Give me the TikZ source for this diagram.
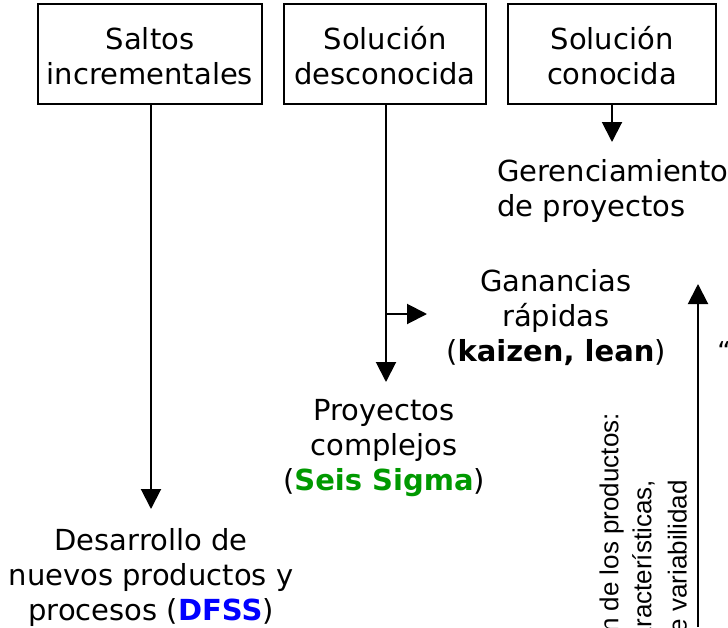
\documentclass[tikz,border=0pt]{standalone}
\usepackage{fontspec}
\setmainfont{DejaVu Sans}
\newfontfamily\arialf{Liberation Sans}
\usetikzlibrary{arrows.meta}
\definecolor{dfssblue}{RGB}{0,0,255}
\definecolor{sigmagreen}{RGB}{0,153,0}
\tikzset{
  box/.style={draw, line width=2pt, minimum height=100pt, inner sep=0pt},
  boxtext/.style={align=center, inner sep=0pt, yshift=-2pt, font=\fontsize{29pt}{35pt}\selectfont},
  lbl/.style={align=center, inner sep=0pt, font=\fontsize{29pt}{35pt}\selectfont},
  rotlbl/.style={inner sep=0pt, rotate=90, font=\arialf\fontsize{26pt}{31pt}\selectfont},
  arr/.style={line width=2pt, -{Triangle[width=20pt,length=20pt]}}
}
\begin{document}
\begin{tikzpicture}[x=1pt,y=-1pt]
\useasboundingbox (0,0) rectangle (728,627);
\clip (0,0) rectangle (728,627);
% boxes
\node[box, minimum width=224pt, label={[boxtext]center:Saltos\\incrementales}] (b1) at (150,54) {};
\node[box, minimum width=202pt, label={[boxtext]center:Solución\\desconocida}] (b2) at (385,54) {};
\node[box, minimum width=208pt, label={[boxtext]center:Solución\\conocida}] (b3) at (612,54) {};
% text blocks
\node[lbl, anchor=west, align=left] (ger) at (497,191) {Gerenciamiento\\de proyectos};
\node[lbl] (gan) at (556,318) {Ganancias\\rápidas\\(\textbf{kaizen, lean})};
\node[lbl] (pro) at (384,448) {Proyectos\\complejos\\(\textbf{\color{sigmagreen}Seis Sigma})};
\node[lbl] (des) at (151,577) {Desarrollo de\\nuevos productos y\\procesos (\textbf{\color{dfssblue}DFSS})};
% rotated text (cut by the picture edge)
\node[rotlbl, anchor=south east] (r1) at (624,413) {Evolución de los productos:};
\node[rotlbl, anchor=south east] (r2) at (655,480) {características,};
\node[rotlbl, anchor=south east] (r3) at (687,480) {reducción de variabilidad};
\node[inner sep=0pt, font=\fontsize{26pt}{31pt}\selectfont] (q) at (724,351) {“};
% arrow tips and junctions
\coordinate (t1) at (151,509);
\coordinate (t2) at (386,382);
\coordinate (j2) at (386,314);
\coordinate (t2b) at (427,314);
\coordinate (t3) at (612,142);
\coordinate (vb) at (698,627);
\coordinate (vt) at (698,284);
% connectors
\draw[arr] (b1.south -| t1) -- (t1);
\draw[arr] (b2.south -| t2) -- (t2);
\draw[arr] (j2) -- (t2b);
\draw[arr] (b3.south -| t3) -- (t3);
\draw[arr] (vb) -- (vt);
\end{tikzpicture}
\end{document}
